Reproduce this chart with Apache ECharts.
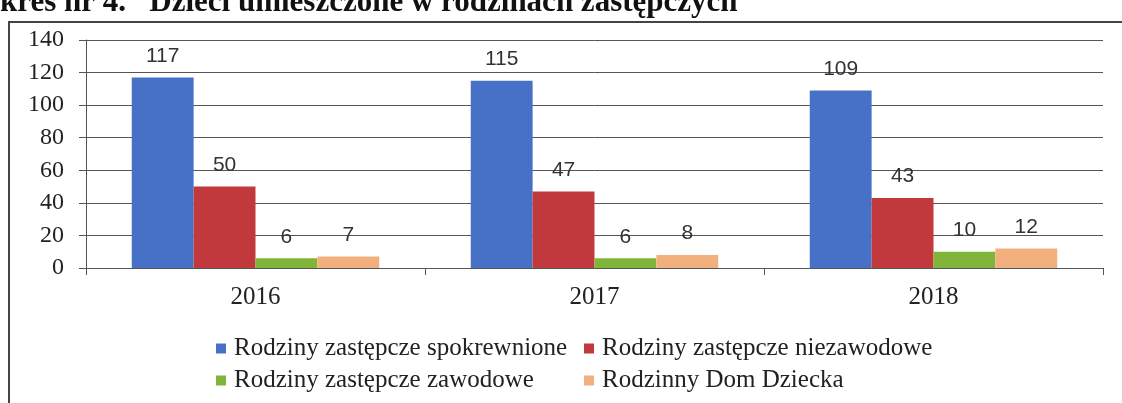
<!DOCTYPE html>
<html>
<head>
<meta charset="utf-8">
<script src="https://cdn.jsdelivr.net/npm/echarts@6/dist/echarts.min.js"></script>
<style>
    html, body { margin: 0; padding: 0; background: #fff; }
    #chart { width: 1122px; height: 403px; }
</style>
</head>
<body>
<div id="chart"></div>
<script>
var titleText = 'kres nr 4.   Dzieci umieszczone w rodzinach zastępczych';
var years = ['2016', '2017', '2018'];
var seriesNames = [
    'Rodziny zastępcze spokrewnione',
    'Rodziny zastępcze niezawodowe',
    'Rodziny zastępcze zawodowe',
    'Rodzinny Dom Dziecka'
];
var spokrewnione = [117, 115, 109];
var niezawodowe = [50, 47, 43];
var zawodowe = [6, 6, 10];
var domDziecka = [7, 8, 12];
var colors = ['#4671c6', '#c2393d', '#80b53a', '#f2b07f'];

var values = [spokrewnione, niezawodowe, zawodowe, domDziecka];
// legend slots: [left, top]
var legendPos = [[211, 331], [579, 331], [211, 363], [579, 363]];

var chartDom = document.getElementById('chart');
var myChart = echarts.init(chartDom);

var series = seriesNames.map(function (name, i) {
    return {
        name: name,
        type: 'bar',
        data: values[i],
        barGap: '0%',
        barCategoryGap: '27%',
        itemStyle: {color: colors[i]},
        label: {
            show: true,
            position: 'top',
            distance: 11,
            color: '#333',
            fontFamily: 'Liberation Sans',
            fontSize: 21
        }
    };
});

var legends = seriesNames.map(function (name, i) {
    return {
        data: [name],
        left: legendPos[i][0],
        top: legendPos[i][1],
        icon: 'rect',
        itemWidth: 10,
        itemHeight: 10,
        itemGap: 0,
        selectedMode: false,
        textStyle: {
            fontFamily: 'Liberation Serif',
            fontSize: 25,
            color: '#222',
            padding: [0, 0, 0, 3]
        }
    };
});

var option = {
    animation: false,
    backgroundColor: '#fff',
    color: colors,
    graphic: [
        {
            type: 'rect',
            shape: {x: 9, y: 22, width: 1200, height: 500},
            style: {fill: 'none', stroke: '#444', lineWidth: 2}
        },
        {
            type: 'text',
            left: 0,
            top: -13,
            style: {
                text: titleText,
                font: 'bold 31px "Liberation Serif"',
                fill: '#111'
            }
        }
    ],
    legend: legends,
    grid: {left: 86, right: 19, top: 40, bottom: 135},
    xAxis: {
        type: 'category',
        data: years,
        axisLine: {lineStyle: {color: '#555', width: 1}},
        axisTick: {show: true, length: 7, lineStyle: {color: '#555'}},
        axisLabel: {
            margin: 17,
            color: '#222',
            fontFamily: 'Liberation Serif',
            fontSize: 25
        }
    },
    yAxis: {
        type: 'value',
        min: 0,
        max: 140,
        interval: 20,
        axisLine: {show: true, lineStyle: {color: '#555', width: 1}},
        axisTick: {show: true, length: 7, lineStyle: {color: '#555'}},
        axisLabel: {
            margin: 22,
            color: '#222',
            fontFamily: 'Liberation Serif',
            fontSize: 24
        },
        splitLine: {lineStyle: {color: '#555', width: 1}}
    },
    series: series
};

option && myChart.setOption(option);
</script>
</body>
</html>
